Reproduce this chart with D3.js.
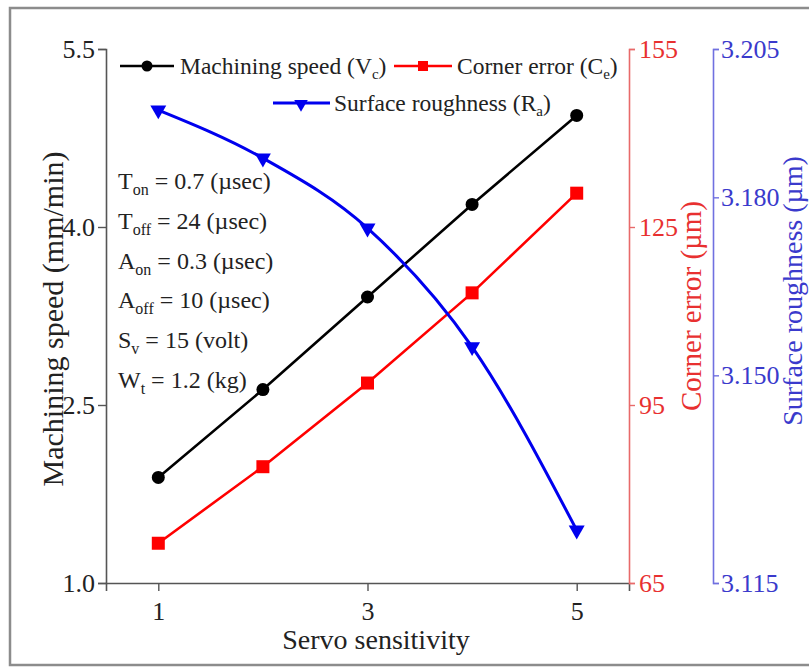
<!DOCTYPE html>
<html><head><meta charset="utf-8">
<script src="https://cdn.jsdelivr.net/npm/d3@7"></script>
<style>
html,body{margin:0;padding:0;background:#fff;}
svg{display:block;font-family:"Liberation Serif","Times New Roman",serif;}
</style></head>
<body><svg id="chart" width="809" height="669"></svg>
<script>
// ---- data ----
const servoSensitivity = [1, 2, 3, 4, 5];
const machiningSpeed = [1.89, 2.63, 3.41, 4.19, 4.94];
const cornerError = [71.7, 84.6, 98.7, 113.9, 130.7];
const surfaceRoughness = [3.1947, 3.1866, 3.1748, 3.1548, 3.1239];
const xTickValues = [1, 3, 5];
const speedTicks = [1.0, 2.5, 4.0, 5.5];
const errorTicks = [65, 95, 125, 155];
const roughTicks = [3.115, 3.150, 3.180, 3.205];
const paramNames = ["T", "T", "A", "A", "S", "W"];
const paramSubs = ["on", "off", "on", "off", "v", "t"];
const paramValues = ["= 0.7 (\u00b5sec)", "= 24 (\u00b5sec)", "= 0.3 (\u00b5sec)", "= 10 (\u00b5sec)", "= 15 (volt)", "= 1.2 (kg)"];

(function () {
const svg = d3.select("#chart");
const pLeft = 106, pRight = 629, pTop = 49, pBottom = 583;
const redAxisX = 629, blueAxisX = 713;

const x = d3.scaleLinear().domain([0.5, 5.5]).range([pLeft, pRight]);
const yL = d3.scaleLinear().domain([1.0, 5.5]).range([pBottom, pTop]);
const yR = d3.scaleLinear().domain([65, 155]).range([pBottom, pTop]);
const yB = d3.scaleLinear().domain([3.115, 3.205]).range([pBottom, pTop]);

const BLACK = "#000", RED = "#ff0000", BLUE = "#0000ee";
const TXT = "#222";

// frame
svg.append("rect").attr("x", 10).attr("y", 8).attr("width", 830).attr("height", 657)
  .attr("fill", "none").attr("stroke", "#8c8c8c").attr("stroke-width", 2.5);

function styleAxis(g, lineColor, textColor, fs) {
  g.select(".domain").attr("stroke", lineColor).attr("stroke-width", 1.6);
  g.selectAll(".tick line").attr("stroke", lineColor).attr("stroke-width", 1.4);
  g.selectAll(".tick text").attr("fill", textColor).attr("font-size", fs)
    .attr("font-family", "Liberation Serif, Times New Roman, serif");
}

const gL = svg.append("g").attr("transform", `translate(${pLeft},0)`)
  .call(d3.axisLeft(yL).tickValues(speedTicks).tickFormat(d3.format(".1f")).tickSizeOuter(0).tickSize(8).tickPadding(3));
styleAxis(gL, "#555", TXT, 26);

const gB = svg.append("g").attr("transform", `translate(0,${pBottom})`)
  .call(d3.axisBottom(x).tickValues(xTickValues).tickFormat(d3.format("d")).tickSizeOuter(0).tickSize(8).tickPadding(11));
styleAxis(gB, "#555", TXT, 26);

const gR = svg.append("g").attr("transform", `translate(${redAxisX},0)`)
  .call(d3.axisRight(yR).tickValues(errorTicks).tickFormat(d3.format("d")).tickSizeOuter(0).tickSize(6).tickPadding(4));
styleAxis(gR, "#e86a6a", "#e83030", 26);

const gBl = svg.append("g").attr("transform", `translate(${blueAxisX},0)`)
  .call(d3.axisRight(yB).tickValues(roughTicks).tickFormat(d3.format(".3f")).tickSizeOuter(0).tickSize(6).tickPadding(2));
styleAxis(gBl, "#7070e0", "#3a3acc", 26);

// axis titles
svg.append("text").attr("x", 376).attr("y", 649).attr("text-anchor", "middle")
  .attr("font-size", 28).attr("fill", TXT).text("Servo sensitivity");
svg.append("text").attr("transform", "translate(63,319) rotate(-90)").attr("text-anchor", "middle")
  .attr("font-size", 30).attr("fill", TXT).text("Machining speed (mm/min)");
svg.append("text").attr("transform", "translate(701,306) rotate(-90)").attr("text-anchor", "middle")
  .attr("font-size", 29).attr("fill", "#e83030").text("Corner error (\u00b5m)");
svg.append("text").attr("transform", "translate(802,291) rotate(-90)").attr("text-anchor", "middle")
  .attr("font-size", 28).attr("fill", "#3a3acc").text("Surface roughness (\u00b5m)");

// series
const pts = (vals) => servoSensitivity.map((s, i) => [s, vals[i]]);
const lineL = d3.line().x(d => x(d[0])).y(d => yL(d[1]));
const lineR = d3.line().x(d => x(d[0])).y(d => yR(d[1]));
const lineB = d3.line().x(d => x(d[0])).y(d => yB(d[1])).curve(d3.curveMonotoneX);

svg.append("path").attr("d", lineL(pts(machiningSpeed))).attr("fill", "none").attr("stroke", BLACK).attr("stroke-width", 2.6);
svg.append("path").attr("d", lineR(pts(cornerError))).attr("fill", "none").attr("stroke", RED).attr("stroke-width", 2.6);
svg.append("path").attr("d", lineB(pts(surfaceRoughness))).attr("fill", "none").attr("stroke", BLUE).attr("stroke-width", 3);

svg.selectAll(".mc").data(pts(machiningSpeed)).enter().append("circle")
  .attr("cx", d => x(d[0])).attr("cy", d => yL(d[1])).attr("r", 6.5).attr("fill", BLACK);
svg.selectAll(".ms").data(pts(cornerError)).enter().append("rect")
  .attr("x", d => x(d[0]) - 6.5).attr("y", d => yR(d[1]) - 6.5).attr("width", 13).attr("height", 13).attr("fill", RED);
const tri = d3.symbol().type(d3.symbolTriangle).size(110);
svg.selectAll(".mt").data(pts(surfaceRoughness)).enter().append("path")
  .attr("d", tri).attr("transform", d => `translate(${x(d[0])},${yB(d[1])}) rotate(180)`).attr("fill", BLUE);

// legend
function legendText(xp, yp, main, sub, fill) {
  const t = svg.append("text").attr("x", xp).attr("y", yp).attr("font-size", 23.5).attr("fill", fill || TXT);
  t.append("tspan").text(main + " (" + sub.charAt(0));
  t.append("tspan").attr("font-size", 15).attr("dy", 5).text(sub.slice(1));
  t.append("tspan").attr("dy", -5).text(")");
}
svg.append("line").attr("x1", 120).attr("x2", 174).attr("y1", 66).attr("y2", 66).attr("stroke", BLACK).attr("stroke-width", 2.6);
svg.append("circle").attr("cx", 147).attr("cy", 66).attr("r", 5.5).attr("fill", BLACK);
legendText(180, 74, "Machining speed", "Vc");
svg.append("line").attr("x1", 394).attr("x2", 452).attr("y1", 66).attr("y2", 66).attr("stroke", RED).attr("stroke-width", 2.6);
svg.append("rect").attr("x", 418).attr("y", 61).attr("width", 10).attr("height", 10).attr("fill", RED);
legendText(457, 74, "Corner error", "Ce");
svg.append("line").attr("x1", 273).attr("x2", 330).attr("y1", 103).attr("y2", 103).attr("stroke", BLUE).attr("stroke-width", 3);
svg.append("path").attr("d", d3.symbol().type(d3.symbolTriangle).size(80)).attr("transform", "translate(301,104) rotate(180)").attr("fill", BLUE);
legendText(334, 111, "Surface roughness", "Ra");

// parameter annotations
paramNames.forEach((n, i) => {
  const t = svg.append("text").attr("x", 118).attr("y", 189 + i * 39.8).attr("font-size", 24).attr("fill", TXT);
  t.append("tspan").text(n);
  t.append("tspan").attr("font-size", 16).attr("dy", 6).text(paramSubs[i]);
  t.append("tspan").attr("dy", -6).text(" " + paramValues[i]);
});
})();
</script></body></html>
